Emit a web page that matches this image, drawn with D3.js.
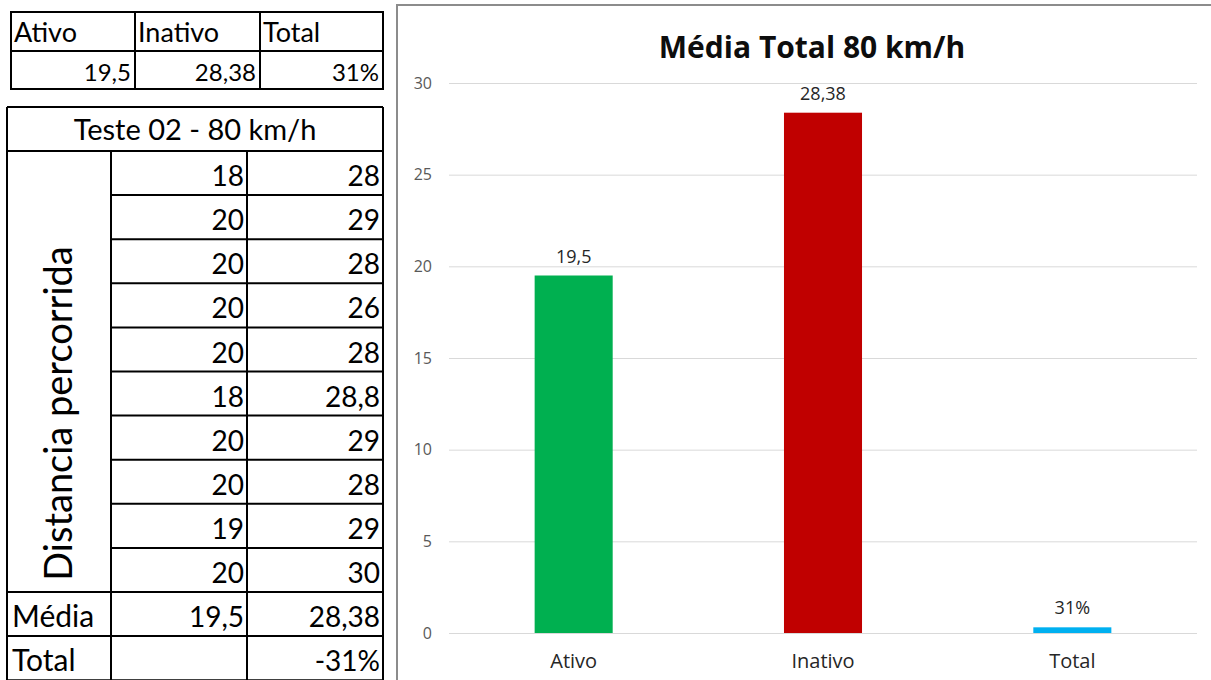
<!DOCTYPE html>
<html>
<head>
<meta charset="utf-8">
<script src="https://cdn.jsdelivr.net/npm/d3@7"></script>
<style>
  body { margin: 0; background: #fff; }
  svg { display: block; font-family: Lato, 'Open Sans', sans-serif; }
</style>
</head>
<body>
<div id="chart"></div>
<script>
// chart data
const categories = ['Ativo', 'Inativo', 'Total'];
const values = [19.5, 28.38, 0.31];
const valueLabels = ['19,5', '28,38', '31%'];
const barColors = ['#00b050', '#c00000', '#00b0f0'];
const yTicks = [0, 5, 10, 15, 20, 25, 30];

// sheet data
const summaryHeader = ['Ativo', 'Inativo', 'Total'];
const summaryValues = ['19,5', '28,38', '31%'];
const ativoDist = [18, 20, 20, 20, 20, 18, 20, 20, 19, 20];
const inativoDist = [28, 29, 28, 26, 28, 28.8, 29, 28, 29, 30];
const mediaRow = ['19,5', '28,38'];
const totalRow = ['', '-31%'];

const width = 1211, height = 680;
const fmt = v => String(v).replace('.', ',');
const chartFont = "'Open Sans', sans-serif";

const svg = d3.select('#chart').append('svg')
  .attr('width', width)
  .attr('height', height);

// ---------- top summary table ----------
const topCols = [11, 135, 260, 383];
const topRows = [12, 51, 89];
const summary = svg.append('g');
summary.append('rect')
  .attr('x', topCols[0]).attr('y', topRows[0])
  .attr('width', topCols[3] - topCols[0]).attr('height', topRows[2] - topRows[0])
  .attr('fill', 'none').attr('stroke', '#000').attr('stroke-width', 2);
summary.append('line')
  .attr('x1', topCols[0]).attr('x2', topCols[3])
  .attr('y1', topRows[1]).attr('y2', topRows[1])
  .attr('stroke', '#000').attr('stroke-width', 2);
[1, 2].forEach(i => summary.append('line')
  .attr('x1', topCols[i]).attr('x2', topCols[i])
  .attr('y1', topRows[0]).attr('y2', topRows[2])
  .attr('stroke', '#000').attr('stroke-width', 2));
summary.selectAll('.hdr').data(summaryHeader).enter().append('text')
  .attr('x', (d, i) => topCols[i] + 3)
  .attr('y', topRows[1] - 9)
  .attr('font-size', 27)
  .text(d => d);
summary.selectAll('.val').data(summaryValues).enter().append('text')
  .attr('x', (d, i) => topCols[i + 1] - 4)
  .attr('y', topRows[2] - 8)
  .attr('font-size', 24)
  .attr('text-anchor', 'end')
  .text(d => d);

// ---------- test table ----------
const tCols = [7, 111, 247, 383];
const tTop = 107, tHead = 151, rowH = 44.1;
const rowY = d3.scaleLinear().domain([0, 1]).range([tHead, tHead + rowH]);
const tab = svg.append('g');
const line = (x1, y1, x2, y2) => tab.append('line')
  .attr('x1', x1).attr('y1', y1).attr('x2', x2).attr('y2', y2)
  .attr('stroke', '#000').attr('stroke-width', 2);

line(tCols[0], tTop, tCols[3], tTop);
line(tCols[0], tHead, tCols[3], tHead);
line(tCols[0], tTop, tCols[0], height);
line(tCols[3], tTop, tCols[3], height);
line(tCols[1], tHead, tCols[1], height);
line(tCols[2], tHead, tCols[2], height);
d3.range(1, 13).forEach(i => {
  const x1 = (i < 10) ? tCols[1] : tCols[0];
  line(x1, rowY(i), tCols[3], rowY(i));
});

tab.append('text')
  .attr('x', (tCols[0] + tCols[3]) / 2)
  .attr('y', tHead - 11)
  .attr('text-anchor', 'middle')
  .attr('font-size', 29)
  .text('Teste 02 - 80 km/h');

tab.append('text')
  .attr('transform', `translate(72,${rowY(0) + rowH * 5 + 42}) rotate(-90)`)
  .attr('text-anchor', 'middle')
  .attr('font-size', 38)
  .text('Distancia percorrida');

const cellText = (txt, col, row) => tab.append('text')
  .attr('x', tCols[col + 1] - 3)
  .attr('y', rowY(row + 1) - 9)
  .attr('text-anchor', 'end')
  .attr('font-size', 28)
  .text(txt);

ativoDist.forEach((v, i) => cellText(fmt(v), 1, i));
inativoDist.forEach((v, i) => cellText(fmt(v), 2, i));
mediaRow.forEach((v, i) => cellText(v, i + 1, 10));
totalRow.forEach((v, i) => cellText(v, i + 1, 11));
[['Média', 10], ['Total', 11]].forEach(([t, r]) => tab.append('text')
  .attr('x', tCols[0] + 5)
  .attr('y', rowY(r + 1) - 9)
  .attr('font-size', 30)
  .text(t));

// ---------- bar chart ----------
const chart = svg.append('g').attr('font-family', chartFont);
chart.append('path')
  .attr('d', `M397,${height + 5}V5H${width + 5}`)
  .attr('fill', 'none')
  .attr('stroke', '#8c8c8c')
  .attr('stroke-width', 2);

const x = d3.scaleBand()
  .domain(categories)
  .range([449, 1197])
  .paddingInner(0.687)
  .paddingOuter(0.3435);
const y = d3.scaleLinear()
  .domain([0, 30])
  .range([633, 83]);

chart.append('text')
  .attr('x', 812)
  .attr('y', 58)
  .attr('text-anchor', 'middle')
  .attr('font-size', 30)
  .attr('font-weight', 'bold')
  .attr('fill', '#0d0d0d')
  .text('Média Total 80 km/h');

const yAxis = chart.append('g')
  .attr('transform', 'translate(449,0)')
  .call(d3.axisLeft(y).tickValues(yTicks).tickSize(-748).tickPadding(17));
yAxis.select('.domain').remove();
yAxis.selectAll('.tick line').attr('stroke', '#d9d9d9');
yAxis.selectAll('.tick text')
  .attr('fill', '#595959')
  .attr('font-size', 16)
  .attr('font-family', chartFont);

const xAxis = chart.append('g')
  .attr('transform', 'translate(0,633)')
  .call(d3.axisBottom(x).tickSize(0).tickPadding(21));
xAxis.select('.domain').remove();
xAxis.selectAll('.tick text')
  .attr('fill', '#262626')
  .attr('font-size', 20)
  .attr('font-family', chartFont);

chart.selectAll('.bar')
  .data(values)
  .enter().append('rect')
  .attr('x', (d, i) => x(categories[i]))
  .attr('y', d => y(d))
  .attr('width', x.bandwidth())
  .attr('height', d => y(0) - y(d))
  .attr('fill', (d, i) => barColors[i]);

chart.selectAll('.lbl')
  .data(values)
  .enter().append('text')
  .attr('x', (d, i) => x(categories[i]) + x.bandwidth() / 2)
  .attr('y', d => y(d) - 13)
  .attr('text-anchor', 'middle')
  .attr('font-size', 18)
  .attr('fill', '#262626')
  .text((d, i) => valueLabels[i]);
</script>
</body>
</html>
